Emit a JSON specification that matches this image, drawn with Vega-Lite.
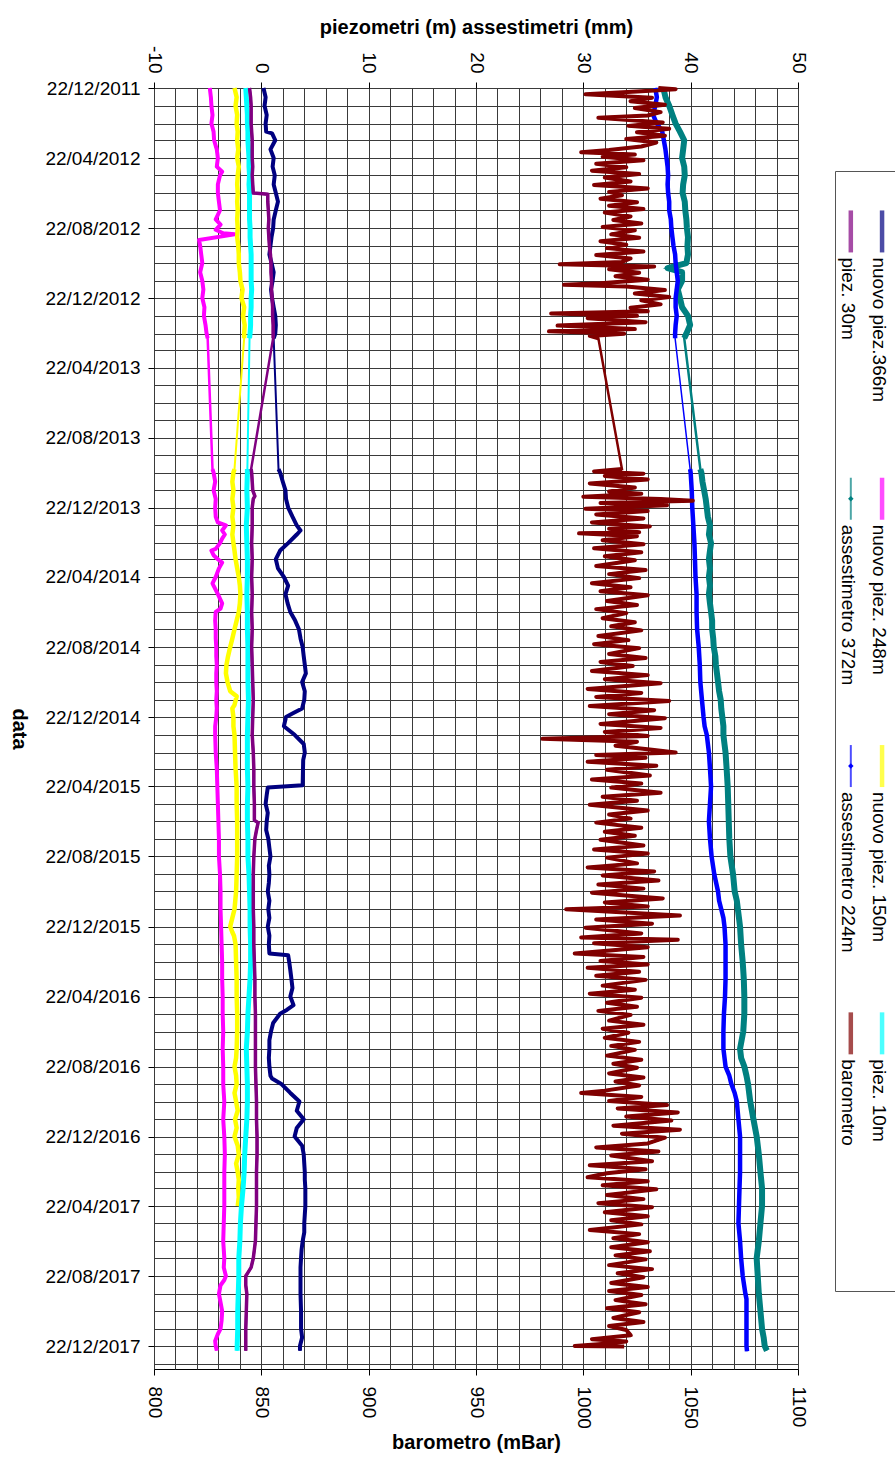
{
"$schema":"https://vega.github.io/schema/vega-lite/v6.json",
"background":"white",
"padding":{"left":8,"top":17,"right":0,"bottom":0},
"config":{
 "font":"Liberation Sans",
 "view":{"stroke":"#000","strokeWidth":1},
 "axis":{"labelColor":"#000","titleColor":"#000","tickColor":"#000","domainColor":"#000","labelFont":"Liberation Sans","titleFont":"Liberation Sans","labelFontSize":19,"titleFontSize":20,"titleFontWeight":"bold","gridColor":"#3a3a3a","gridOpacity":1,"gridWidth":1,"labelOverlap":false,"labelBound":false,"labelFlush":false,"tickSize":6,"tickWidth":1}
},
"datasets":{
"n366":[{"d":"2011-12-22","v":0.2},{"d":"2012-01-07","v":0.4},{"d":"2012-01-22","v":0.3},{"d":"2012-02-07","v":0.5},{"d":"2012-02-22","v":0.4},{"d":"2012-03-07","v":0.45},{"d":"2012-03-10","v":1.0},{"d":"2012-03-22","v":1.3},{"d":"2012-04-07","v":0.85},{"d":"2012-04-22","v":1.15},{"d":"2012-05-07","v":1.05},{"d":"2012-05-22","v":1.25},{"d":"2012-06-07","v":1.15},{"d":"2012-06-22","v":1.35},{"d":"2012-07-07","v":1.55},{"d":"2012-07-22","v":1.35},{"d":"2012-08-07","v":1.15},{"d":"2012-08-22","v":1.1},{"d":"2012-09-07","v":0.95},{"d":"2012-09-22","v":0.85},{"d":"2012-10-07","v":0.75},{"d":"2012-10-22","v":0.95},{"d":"2012-11-07","v":1.15},{"d":"2012-11-22","v":1.05},{"d":"2012-12-07","v":0.9},{"d":"2012-12-22","v":1.0},{"d":"2013-01-07","v":1.15},{"d":"2013-01-22","v":1.3},{"d":"2013-02-07","v":1.35},{"d":"2013-02-22","v":1.3},{"d":"2013-03-02","v":1.15},{"d":"2013-06-15","v":null},{"d":"2013-10-16","v":1.6},{"d":"2013-10-22","v":1.75},{"d":"2013-11-07","v":2.0},{"d":"2013-11-22","v":2.25},{"d":"2013-12-07","v":2.3},{"d":"2013-12-22","v":2.5},{"d":"2014-01-07","v":2.9},{"d":"2014-01-22","v":3.3},{"d":"2014-01-31","v":3.65},{"d":"2014-02-07","v":3.3},{"d":"2014-02-22","v":2.5},{"d":"2014-03-07","v":1.75},{"d":"2014-03-22","v":1.35},{"d":"2014-04-07","v":1.55},{"d":"2014-04-22","v":2.1},{"d":"2014-05-07","v":2.5},{"d":"2014-05-22","v":2.25},{"d":"2014-06-07","v":2.45},{"d":"2014-06-22","v":2.7},{"d":"2014-07-07","v":3.15},{"d":"2014-07-22","v":3.5},{"d":"2014-08-07","v":3.65},{"d":"2014-08-22","v":3.85},{"d":"2014-09-07","v":3.95},{"d":"2014-09-22","v":4.05},{"d":"2014-10-07","v":4.15},{"d":"2014-10-22","v":3.8},{"d":"2014-11-07","v":4.05},{"d":"2014-11-22","v":4.0},{"d":"2014-12-07","v":3.8},{"d":"2014-12-16","v":2.9},{"d":"2014-12-22","v":2.3},{"d":"2015-01-07","v":2.1},{"d":"2015-01-22","v":3.1},{"d":"2015-02-07","v":3.95},{"d":"2015-02-22","v":4.05},{"d":"2015-03-07","v":3.9},{"d":"2015-04-20","v":3.85},{"d":"2015-04-24","v":0.6},{"d":"2015-05-07","v":0.5},{"d":"2015-05-22","v":0.4},{"d":"2015-06-07","v":0.6},{"d":"2015-06-22","v":0.5},{"d":"2015-07-07","v":0.45},{"d":"2015-07-22","v":0.65},{"d":"2015-08-07","v":0.75},{"d":"2015-08-22","v":0.85},{"d":"2015-09-07","v":0.7},{"d":"2015-09-22","v":0.75},{"d":"2015-10-07","v":0.7},{"d":"2015-10-22","v":0.6},{"d":"2015-11-07","v":0.75},{"d":"2015-11-22","v":0.65},{"d":"2015-12-07","v":0.75},{"d":"2015-12-22","v":0.6},{"d":"2016-01-07","v":0.75},{"d":"2016-01-22","v":0.7},{"d":"2016-02-07","v":0.75},{"d":"2016-02-10","v":2.5},{"d":"2016-02-22","v":2.6},{"d":"2016-03-07","v":2.7},{"d":"2016-03-22","v":2.8},{"d":"2016-04-07","v":2.9},{"d":"2016-04-22","v":2.7},{"d":"2016-05-07","v":3.0},{"d":"2016-05-15","v":2.4},{"d":"2016-05-22","v":1.75},{"d":"2016-06-07","v":1.1},{"d":"2016-06-22","v":0.9},{"d":"2016-07-07","v":0.75},{"d":"2016-07-22","v":0.75},{"d":"2016-08-07","v":0.7},{"d":"2016-08-22","v":0.75},{"d":"2016-09-07","v":0.85},{"d":"2016-09-12","v":1.0},{"d":"2016-09-22","v":1.9},{"d":"2016-10-07","v":2.7},{"d":"2016-10-22","v":3.55},{"d":"2016-11-07","v":3.3},{"d":"2016-11-22","v":3.95},{"d":"2016-12-07","v":3.3},{"d":"2016-12-22","v":3.1},{"d":"2017-01-07","v":3.8},{"d":"2017-01-22","v":3.95},{"d":"2017-02-07","v":4.0},{"d":"2017-02-22","v":4.05},{"d":"2017-03-07","v":4.05},{"d":"2017-03-22","v":4.1},{"d":"2017-04-07","v":4.1},{"d":"2017-04-22","v":4.1},{"d":"2017-05-07","v":4.05},{"d":"2017-05-22","v":4.0},{"d":"2017-06-07","v":4.0},{"d":"2017-06-22","v":3.85},{"d":"2017-07-07","v":3.75},{"d":"2017-07-22","v":3.7},{"d":"2017-08-07","v":3.65},{"d":"2017-08-22","v":3.65},{"d":"2017-09-22","v":3.65},{"d":"2017-10-22","v":3.7},{"d":"2017-11-22","v":3.7},{"d":"2017-12-07","v":3.8},{"d":"2017-12-22","v":3.6},{"d":"2017-12-30","v":3.6}],
"n248":[{"d":"2011-12-22","v":-4.8},{"d":"2012-01-07","v":-4.7},{"d":"2012-01-22","v":-4.65},{"d":"2012-02-07","v":-4.55},{"d":"2012-02-22","v":-4.65},{"d":"2012-03-07","v":-4.45},{"d":"2012-03-22","v":-4.4},{"d":"2012-04-07","v":-4.15},{"d":"2012-04-22","v":-4.05},{"d":"2012-05-07","v":-4.15},{"d":"2012-05-16","v":-3.65},{"d":"2012-05-22","v":-3.85},{"d":"2012-06-07","v":-4.05},{"d":"2012-06-22","v":-4.05},{"d":"2012-07-07","v":-3.95},{"d":"2012-07-22","v":-3.85},{"d":"2012-08-07","v":-4.25},{"d":"2012-08-16","v":-3.8},{"d":"2012-08-25","v":-4.25},{"d":"2012-08-31","v":-3.55},{"d":"2012-09-02","v":-2.5},{"d":"2012-09-12","v":-5.8},{"d":"2012-09-22","v":-5.7},{"d":"2012-10-07","v":-5.6},{"d":"2012-10-22","v":-5.5},{"d":"2012-11-07","v":-5.7},{"d":"2012-11-22","v":-5.5},{"d":"2012-12-07","v":-5.4},{"d":"2012-12-22","v":-5.5},{"d":"2013-01-07","v":-5.3},{"d":"2013-01-22","v":-5.35},{"d":"2013-02-07","v":-5.2},{"d":"2013-02-22","v":-5.1},{"d":"2013-03-02","v":-5.0},{"d":"2013-06-15","v":null},{"d":"2013-10-16","v":-4.55},{"d":"2013-10-22","v":-4.45},{"d":"2013-11-07","v":-4.3},{"d":"2013-11-22","v":-4.45},{"d":"2013-12-07","v":-4.25},{"d":"2013-12-22","v":-4.3},{"d":"2014-01-07","v":-4.25},{"d":"2014-01-17","v":-4.05},{"d":"2014-01-22","v":-3.3},{"d":"2014-01-31","v":-3.65},{"d":"2014-02-07","v":-3.4},{"d":"2014-02-14","v":-3.65},{"d":"2014-02-22","v":-3.85},{"d":"2014-03-04","v":-4.25},{"d":"2014-03-07","v":-4.65},{"d":"2014-03-15","v":-4.45},{"d":"2014-03-22","v":-4.05},{"d":"2014-03-28","v":-3.65},{"d":"2014-04-07","v":-3.95},{"d":"2014-04-22","v":-4.25},{"d":"2014-05-03","v":-4.55},{"d":"2014-05-07","v":-4.45},{"d":"2014-05-22","v":-4.05},{"d":"2014-06-07","v":-3.65},{"d":"2014-06-16","v":-3.8},{"d":"2014-06-22","v":-4.25},{"d":"2014-07-07","v":-4.3},{"d":"2014-07-22","v":-4.25},{"d":"2014-08-07","v":-4.25},{"d":"2014-08-22","v":-4.2},{"d":"2014-09-07","v":-4.2},{"d":"2014-09-22","v":-4.15},{"d":"2014-10-07","v":-4.2},{"d":"2014-10-22","v":-4.2},{"d":"2014-11-07","v":-4.15},{"d":"2014-11-22","v":-4.2},{"d":"2014-12-07","v":-4.15},{"d":"2014-12-22","v":-4.2},{"d":"2015-01-07","v":-4.3},{"d":"2015-01-22","v":-4.3},{"d":"2015-02-22","v":-4.25},{"d":"2015-03-22","v":-4.15},{"d":"2015-04-22","v":-4.1},{"d":"2015-05-22","v":-4.05},{"d":"2015-06-22","v":-4.0},{"d":"2015-07-22","v":-3.95},{"d":"2015-08-22","v":-3.95},{"d":"2015-09-22","v":-3.85},{"d":"2015-10-22","v":-3.8},{"d":"2015-11-22","v":-3.8},{"d":"2015-12-22","v":-3.75},{"d":"2016-01-22","v":-3.7},{"d":"2016-02-22","v":-3.65},{"d":"2016-03-22","v":-3.65},{"d":"2016-04-22","v":-3.6},{"d":"2016-05-22","v":-3.6},{"d":"2016-06-22","v":-3.55},{"d":"2016-07-22","v":-3.6},{"d":"2016-08-22","v":-3.55},{"d":"2016-09-22","v":-3.55},{"d":"2016-10-22","v":-3.45},{"d":"2016-11-22","v":-3.55},{"d":"2016-12-22","v":-3.45},{"d":"2017-01-22","v":-3.4},{"d":"2017-02-22","v":-3.45},{"d":"2017-03-22","v":-3.45},{"d":"2017-04-22","v":-3.45},{"d":"2017-05-22","v":-3.5},{"d":"2017-06-22","v":-3.55},{"d":"2017-07-07","v":-3.5},{"d":"2017-07-22","v":-3.45},{"d":"2017-08-07","v":-3.5},{"d":"2017-08-22","v":-3.3},{"d":"2017-08-29","v":-3.45},{"d":"2017-09-07","v":-3.8},{"d":"2017-09-22","v":-3.95},{"d":"2017-10-07","v":-3.8},{"d":"2017-10-22","v":-3.65},{"d":"2017-11-07","v":-3.7},{"d":"2017-11-22","v":-3.8},{"d":"2017-12-01","v":-4.05},{"d":"2017-12-13","v":-4.3},{"d":"2017-12-22","v":-4.25},{"d":"2017-12-30","v":-4.15}],
"n150":[{"d":"2011-12-22","v":-2.5},{"d":"2012-01-07","v":-2.3},{"d":"2012-01-22","v":-2.4},{"d":"2012-02-07","v":-2.25},{"d":"2012-02-22","v":-2.3},{"d":"2012-03-07","v":-2.2},{"d":"2012-03-22","v":-2.25},{"d":"2012-04-07","v":-2.15},{"d":"2012-04-22","v":-2.25},{"d":"2012-05-07","v":-2.1},{"d":"2012-05-22","v":-2.2},{"d":"2012-06-07","v":-2.25},{"d":"2012-06-22","v":-2.2},{"d":"2012-07-07","v":-2.25},{"d":"2012-07-22","v":-2.2},{"d":"2012-08-07","v":-2.25},{"d":"2012-08-22","v":-2.2},{"d":"2012-09-07","v":-2.25},{"d":"2012-09-22","v":-2.15},{"d":"2012-10-07","v":-2.1},{"d":"2012-10-22","v":-2.1},{"d":"2012-11-07","v":-2.0},{"d":"2012-11-22","v":-1.95},{"d":"2012-12-07","v":-1.75},{"d":"2012-12-22","v":-1.85},{"d":"2013-01-07","v":-1.6},{"d":"2013-01-22","v":-1.7},{"d":"2013-02-07","v":-1.55},{"d":"2013-02-22","v":-1.6},{"d":"2013-03-02","v":-1.6},{"d":"2013-06-15","v":null},{"d":"2013-10-16","v":-2.5},{"d":"2013-10-22","v":-2.6},{"d":"2013-11-07","v":-2.7},{"d":"2013-11-22","v":-2.6},{"d":"2013-12-07","v":-2.7},{"d":"2013-12-22","v":-2.6},{"d":"2014-01-07","v":-2.7},{"d":"2014-01-22","v":-2.6},{"d":"2014-02-07","v":-2.7},{"d":"2014-02-22","v":-2.6},{"d":"2014-03-07","v":-2.5},{"d":"2014-03-22","v":-2.4},{"d":"2014-04-07","v":-2.25},{"d":"2014-04-22","v":-2.1},{"d":"2014-05-07","v":-2.0},{"d":"2014-05-22","v":-1.95},{"d":"2014-06-07","v":-2.0},{"d":"2014-06-22","v":-2.1},{"d":"2014-07-07","v":-2.3},{"d":"2014-07-22","v":-2.5},{"d":"2014-08-07","v":-2.7},{"d":"2014-08-22","v":-2.9},{"d":"2014-09-07","v":-3.1},{"d":"2014-09-22","v":-3.25},{"d":"2014-10-07","v":-3.3},{"d":"2014-10-22","v":-3.15},{"d":"2014-11-07","v":-2.9},{"d":"2014-11-16","v":-2.3},{"d":"2014-12-01","v":-2.5},{"d":"2014-12-07","v":-2.7},{"d":"2014-12-22","v":-2.6},{"d":"2015-01-07","v":-2.6},{"d":"2015-01-22","v":-2.5},{"d":"2015-02-22","v":-2.45},{"d":"2015-03-22","v":-2.4},{"d":"2015-04-22","v":-2.3},{"d":"2015-05-22","v":-2.3},{"d":"2015-06-22","v":-2.25},{"d":"2015-07-22","v":-2.25},{"d":"2015-08-22","v":-2.25},{"d":"2015-09-22","v":-2.3},{"d":"2015-10-22","v":-2.35},{"d":"2015-11-22","v":-2.5},{"d":"2015-12-07","v":-2.7},{"d":"2015-12-22","v":-2.9},{"d":"2016-01-01","v":-2.7},{"d":"2016-01-07","v":-2.55},{"d":"2016-01-22","v":-2.4},{"d":"2016-02-22","v":-2.35},{"d":"2016-03-22","v":-2.3},{"d":"2016-04-22","v":-2.3},{"d":"2016-05-22","v":-2.25},{"d":"2016-06-22","v":-2.25},{"d":"2016-07-22","v":-2.3},{"d":"2016-08-07","v":-2.35},{"d":"2016-08-22","v":-2.5},{"d":"2016-09-07","v":-2.35},{"d":"2016-09-22","v":-2.3},{"d":"2016-10-07","v":-2.5},{"d":"2016-10-22","v":-2.35},{"d":"2016-11-07","v":-2.2},{"d":"2016-11-22","v":-2.45},{"d":"2016-12-07","v":-2.3},{"d":"2016-12-22","v":-2.5},{"d":"2017-01-07","v":-2.2},{"d":"2017-01-22","v":-2.1},{"d":"2017-02-07","v":-2.35},{"d":"2017-02-22","v":-2.2},{"d":"2017-03-07","v":-2.1},{"d":"2017-03-22","v":-2.15},{"d":"2017-04-07","v":-2.1},{"d":"2017-04-22","v":-2.2}],
"p10":[{"d":"2011-12-22","v":-1.45},{"d":"2012-01-07","v":-1.4},{"d":"2012-01-22","v":-1.35},{"d":"2012-02-07","v":-1.3},{"d":"2012-02-22","v":-1.3},{"d":"2012-03-07","v":-1.25},{"d":"2012-03-22","v":-1.25},{"d":"2012-04-07","v":-1.2},{"d":"2012-04-22","v":-1.15},{"d":"2012-05-07","v":-1.15},{"d":"2012-05-22","v":-1.1},{"d":"2012-06-07","v":-1.15},{"d":"2012-06-22","v":-1.1},{"d":"2012-07-07","v":-1.1},{"d":"2012-07-22","v":-1.1},{"d":"2012-08-07","v":-1.1},{"d":"2012-08-22","v":-1.05},{"d":"2012-09-07","v":-1.05},{"d":"2012-09-22","v":-1.0},{"d":"2012-10-07","v":-0.95},{"d":"2012-10-22","v":-0.95},{"d":"2012-11-07","v":-0.95},{"d":"2012-11-22","v":-0.95},{"d":"2012-12-07","v":-0.9},{"d":"2012-12-22","v":-0.95},{"d":"2013-01-07","v":-0.95},{"d":"2013-01-22","v":-1.0},{"d":"2013-02-07","v":-1.0},{"d":"2013-02-22","v":-1.05},{"d":"2013-03-02","v":-1.1},{"d":"2013-06-15","v":null},{"d":"2013-10-16","v":-1.3},{"d":"2013-10-22","v":-1.3},{"d":"2013-11-22","v":-1.35},{"d":"2013-12-22","v":-1.3},{"d":"2014-01-22","v":-1.4},{"d":"2014-02-22","v":-1.35},{"d":"2014-03-22","v":-1.3},{"d":"2014-04-22","v":-1.3},{"d":"2014-05-22","v":-1.35},{"d":"2014-06-22","v":-1.3},{"d":"2014-07-22","v":-1.3},{"d":"2014-08-22","v":-1.25},{"d":"2014-09-22","v":-1.25},{"d":"2014-10-22","v":-1.25},{"d":"2014-11-22","v":-1.2},{"d":"2014-12-22","v":-1.25},{"d":"2015-01-22","v":-1.3},{"d":"2015-02-22","v":-1.3},{"d":"2015-03-22","v":-1.3},{"d":"2015-04-22","v":-1.25},{"d":"2015-05-22","v":-1.3},{"d":"2015-06-22","v":-1.3},{"d":"2015-07-22","v":-1.25},{"d":"2015-08-22","v":-1.25},{"d":"2015-09-22","v":-1.15},{"d":"2015-10-22","v":-1.1},{"d":"2015-11-22","v":-1.05},{"d":"2015-12-22","v":-1.05},{"d":"2016-01-22","v":-1.0},{"d":"2016-02-22","v":-1.0},{"d":"2016-03-22","v":-1.05},{"d":"2016-04-22","v":-1.15},{"d":"2016-05-22","v":-1.25},{"d":"2016-06-22","v":-1.3},{"d":"2016-07-22","v":-1.4},{"d":"2016-08-22","v":-1.35},{"d":"2016-09-22","v":-1.3},{"d":"2016-10-22","v":-1.3},{"d":"2016-11-22","v":-1.35},{"d":"2016-12-22","v":-1.45},{"d":"2017-01-22","v":-1.55},{"d":"2017-02-22","v":-1.6},{"d":"2017-03-22","v":-1.7},{"d":"2017-04-22","v":-1.85},{"d":"2017-05-22","v":-1.95},{"d":"2017-06-22","v":-2.0},{"d":"2017-07-22","v":-2.1},{"d":"2017-08-22","v":-2.1},{"d":"2017-09-22","v":-2.15},{"d":"2017-10-22","v":-2.2},{"d":"2017-11-22","v":-2.2},{"d":"2017-12-22","v":-2.25},{"d":"2017-12-30","v":-2.25}],
"p30":[{"d":"2011-12-22","v":-1.1},{"d":"2012-01-07","v":-1.0},{"d":"2012-01-22","v":-0.95},{"d":"2012-02-07","v":-0.95},{"d":"2012-02-22","v":-0.95},{"d":"2012-03-07","v":-0.9},{"d":"2012-03-22","v":-0.85},{"d":"2012-04-07","v":-0.85},{"d":"2012-04-22","v":-0.85},{"d":"2012-05-07","v":-0.8},{"d":"2012-05-22","v":-0.85},{"d":"2012-06-07","v":-0.8},{"d":"2012-06-22","v":-0.75},{"d":"2012-06-24","v":0.6},{"d":"2012-07-07","v":0.6},{"d":"2012-07-22","v":0.65},{"d":"2012-08-07","v":0.7},{"d":"2012-08-22","v":0.65},{"d":"2012-09-07","v":0.7},{"d":"2012-09-22","v":0.75},{"d":"2012-10-07","v":0.85},{"d":"2012-10-22","v":0.9},{"d":"2012-11-07","v":0.9},{"d":"2012-11-22","v":0.95},{"d":"2012-12-07","v":0.95},{"d":"2012-12-22","v":1.0},{"d":"2013-01-07","v":1.05},{"d":"2013-01-22","v":1.05},{"d":"2013-02-07","v":1.1},{"d":"2013-02-22","v":1.1},{"d":"2013-03-02","v":1.1},{"d":"2013-06-15","v":null},{"d":"2013-10-16","v":-0.95},{"d":"2013-10-22","v":-0.9},{"d":"2013-11-07","v":-0.85},{"d":"2013-11-22","v":-0.8},{"d":"2013-12-02","v":-0.6},{"d":"2013-12-07","v":-0.75},{"d":"2013-12-22","v":-0.85},{"d":"2014-01-22","v":-0.85},{"d":"2014-02-22","v":-0.9},{"d":"2014-03-22","v":-0.85},{"d":"2014-04-22","v":-0.9},{"d":"2014-05-22","v":-0.85},{"d":"2014-06-22","v":-0.9},{"d":"2014-07-22","v":-0.85},{"d":"2014-08-22","v":-0.9},{"d":"2014-09-22","v":-0.85},{"d":"2014-10-22","v":-0.8},{"d":"2014-11-22","v":-0.75},{"d":"2014-12-22","v":-0.8},{"d":"2015-01-22","v":-0.85},{"d":"2015-02-22","v":-0.75},{"d":"2015-03-22","v":-0.7},{"d":"2015-04-22","v":-0.7},{"d":"2015-05-22","v":-0.65},{"d":"2015-06-20","v":-0.65},{"d":"2015-06-24","v":-0.3},{"d":"2015-07-07","v":-0.45},{"d":"2015-07-22","v":-0.6},{"d":"2015-08-22","v":-0.7},{"d":"2015-09-22","v":-0.75},{"d":"2015-10-22","v":-0.75},{"d":"2015-11-22","v":-0.75},{"d":"2015-12-22","v":-0.7},{"d":"2016-01-22","v":-0.7},{"d":"2016-02-22","v":-0.65},{"d":"2016-03-22","v":-0.6},{"d":"2016-04-22","v":-0.6},{"d":"2016-05-22","v":-0.55},{"d":"2016-06-22","v":-0.55},{"d":"2016-07-22","v":-0.55},{"d":"2016-08-22","v":-0.55},{"d":"2016-09-22","v":-0.5},{"d":"2016-10-22","v":-0.45},{"d":"2016-11-22","v":-0.45},{"d":"2016-12-22","v":-0.4},{"d":"2017-01-22","v":-0.4},{"d":"2017-02-22","v":-0.45},{"d":"2017-03-22","v":-0.45},{"d":"2017-04-22","v":-0.45},{"d":"2017-05-22","v":-0.5},{"d":"2017-06-22","v":-0.55},{"d":"2017-07-07","v":-0.65},{"d":"2017-07-22","v":-0.75},{"d":"2017-08-07","v":-0.95},{"d":"2017-08-16","v":-1.25},{"d":"2017-08-22","v":-1.45},{"d":"2017-09-07","v":-1.45},{"d":"2017-09-22","v":-1.35},{"d":"2017-10-22","v":-1.4},{"d":"2017-11-22","v":-1.45},{"d":"2017-12-22","v":-1.45},{"d":"2017-12-30","v":-1.45}],
"a372":[{"d":"2011-12-22","v":37.45},{"d":"2012-01-07","v":37.65},{"d":"2012-01-22","v":38.0},{"d":"2012-02-07","v":38.3},{"d":"2012-02-22","v":38.6},{"d":"2012-03-07","v":39.0},{"d":"2012-03-22","v":39.4},{"d":"2012-04-07","v":39.3},{"d":"2012-04-22","v":39.2},{"d":"2012-05-07","v":39.4},{"d":"2012-05-22","v":39.45},{"d":"2012-06-07","v":39.3},{"d":"2012-06-22","v":39.25},{"d":"2012-07-07","v":39.45},{"d":"2012-07-22","v":39.5},{"d":"2012-08-07","v":39.6},{"d":"2012-08-22","v":39.65},{"d":"2012-09-07","v":39.75},{"d":"2012-09-22","v":39.7},{"d":"2012-10-07","v":39.75},{"d":"2012-10-22","v":39.6},{"d":"2012-10-31","v":37.85},{"d":"2012-11-07","v":39.2},{"d":"2012-11-22","v":39.2},{"d":"2012-12-07","v":38.8},{"d":"2012-12-22","v":39.0},{"d":"2013-01-07","v":39.2},{"d":"2013-01-22","v":39.75},{"d":"2013-02-07","v":39.95},{"d":"2013-02-22","v":39.6},{"d":"2013-03-02","v":39.4},{"d":"2013-06-15","v":null},{"d":"2013-10-16","v":40.9},{"d":"2013-10-22","v":41.0},{"d":"2013-11-07","v":41.1},{"d":"2013-11-22","v":41.25},{"d":"2013-12-07","v":41.4},{"d":"2013-12-22","v":41.5},{"d":"2014-01-07","v":41.6},{"d":"2014-01-22","v":41.8},{"d":"2014-02-07","v":41.7},{"d":"2014-02-22","v":41.9},{"d":"2014-03-07","v":41.8},{"d":"2014-03-22","v":41.7},{"d":"2014-04-07","v":41.8},{"d":"2014-04-22","v":41.7},{"d":"2014-05-07","v":41.8},{"d":"2014-05-22","v":41.7},{"d":"2014-06-07","v":41.8},{"d":"2014-06-22","v":41.9},{"d":"2014-07-07","v":42.0},{"d":"2014-07-22","v":42.0},{"d":"2014-08-07","v":42.1},{"d":"2014-08-22","v":42.15},{"d":"2014-09-07","v":42.3},{"d":"2014-09-22","v":42.35},{"d":"2014-10-07","v":42.45},{"d":"2014-10-22","v":42.55},{"d":"2014-11-07","v":42.65},{"d":"2014-11-22","v":42.8},{"d":"2014-12-07","v":42.85},{"d":"2014-12-22","v":42.95},{"d":"2015-01-07","v":43.05},{"d":"2015-01-22","v":43.05},{"d":"2015-02-07","v":43.15},{"d":"2015-02-22","v":43.25},{"d":"2015-03-22","v":43.35},{"d":"2015-04-22","v":43.45},{"d":"2015-05-22","v":43.5},{"d":"2015-06-22","v":43.55},{"d":"2015-07-22","v":43.6},{"d":"2015-08-22","v":43.7},{"d":"2015-09-22","v":43.95},{"d":"2015-10-22","v":44.1},{"d":"2015-11-07","v":44.3},{"d":"2015-11-22","v":44.4},{"d":"2015-12-07","v":44.5},{"d":"2015-12-22","v":44.6},{"d":"2016-01-22","v":44.7},{"d":"2016-02-22","v":44.85},{"d":"2016-03-22","v":44.95},{"d":"2016-04-22","v":45.0},{"d":"2016-05-22","v":45.0},{"d":"2016-06-22","v":44.9},{"d":"2016-07-22","v":44.6},{"d":"2016-08-07","v":44.7},{"d":"2016-08-22","v":45.0},{"d":"2016-09-07","v":45.2},{"d":"2016-09-22","v":45.35},{"d":"2016-10-22","v":45.55},{"d":"2016-11-22","v":45.85},{"d":"2016-12-22","v":46.15},{"d":"2017-01-22","v":46.35},{"d":"2017-02-22","v":46.5},{"d":"2017-03-22","v":46.65},{"d":"2017-04-22","v":46.65},{"d":"2017-05-22","v":46.5},{"d":"2017-06-22","v":46.35},{"d":"2017-07-22","v":46.15},{"d":"2017-08-22","v":46.25},{"d":"2017-09-22","v":46.35},{"d":"2017-10-22","v":46.5},{"d":"2017-11-22","v":46.65},{"d":"2017-12-07","v":46.8},{"d":"2017-12-22","v":46.9},{"d":"2017-12-30","v":47.1}],
"a224":[{"d":"2011-12-22","v":36.7},{"d":"2012-01-07","v":36.85},{"d":"2012-01-22","v":36.7},{"d":"2012-02-07","v":36.5},{"d":"2012-02-22","v":36.85},{"d":"2012-03-07","v":37.35},{"d":"2012-03-22","v":37.5},{"d":"2012-04-07","v":37.65},{"d":"2012-04-22","v":37.75},{"d":"2012-05-07","v":37.85},{"d":"2012-05-22","v":37.9},{"d":"2012-06-07","v":37.85},{"d":"2012-06-22","v":37.9},{"d":"2012-07-07","v":38.0},{"d":"2012-07-22","v":38.0},{"d":"2012-08-07","v":38.15},{"d":"2012-08-22","v":38.2},{"d":"2012-09-07","v":38.3},{"d":"2012-09-22","v":38.4},{"d":"2012-10-07","v":38.55},{"d":"2012-10-22","v":38.6},{"d":"2012-11-07","v":38.7},{"d":"2012-11-22","v":38.8},{"d":"2012-12-07","v":38.7},{"d":"2012-12-22","v":38.6},{"d":"2013-01-07","v":38.6},{"d":"2013-01-22","v":38.7},{"d":"2013-02-07","v":38.6},{"d":"2013-02-22","v":38.55},{"d":"2013-03-02","v":38.55},{"d":"2013-06-15","v":null},{"d":"2013-10-16","v":39.95},{"d":"2013-10-22","v":40.0},{"d":"2013-11-22","v":40.1},{"d":"2013-12-22","v":40.15},{"d":"2014-01-22","v":40.25},{"d":"2014-02-22","v":40.35},{"d":"2014-03-22","v":40.4},{"d":"2014-04-22","v":40.45},{"d":"2014-05-22","v":40.55},{"d":"2014-06-22","v":40.55},{"d":"2014-07-22","v":40.6},{"d":"2014-08-22","v":40.75},{"d":"2014-09-22","v":40.85},{"d":"2014-10-22","v":40.9},{"d":"2014-11-22","v":41.05},{"d":"2014-12-22","v":41.2},{"d":"2015-01-07","v":41.3},{"d":"2015-01-22","v":41.5},{"d":"2015-02-22","v":41.7},{"d":"2015-03-22","v":41.8},{"d":"2015-04-22","v":41.9},{"d":"2015-05-22","v":41.8},{"d":"2015-06-22","v":41.7},{"d":"2015-07-22","v":41.8},{"d":"2015-08-22","v":41.95},{"d":"2015-09-22","v":42.2},{"d":"2015-10-22","v":42.55},{"d":"2015-11-07","v":42.65},{"d":"2015-11-22","v":42.85},{"d":"2015-12-07","v":43.05},{"d":"2015-12-22","v":43.15},{"d":"2016-01-22","v":43.25},{"d":"2016-02-22","v":43.25},{"d":"2016-03-22","v":43.25},{"d":"2016-04-22","v":43.2},{"d":"2016-05-22","v":43.1},{"d":"2016-06-22","v":43.05},{"d":"2016-07-22","v":43.05},{"d":"2016-08-22","v":43.25},{"d":"2016-09-07","v":43.6},{"d":"2016-09-22","v":43.8},{"d":"2016-10-07","v":44.1},{"d":"2016-10-22","v":44.3},{"d":"2016-11-22","v":44.45},{"d":"2016-12-22","v":44.6},{"d":"2017-01-22","v":44.6},{"d":"2017-02-22","v":44.6},{"d":"2017-03-22","v":44.55},{"d":"2017-04-22","v":44.5},{"d":"2017-05-22","v":44.45},{"d":"2017-06-22","v":44.6},{"d":"2017-07-22","v":44.7},{"d":"2017-08-22","v":44.85},{"d":"2017-09-22","v":45.1},{"d":"2017-10-01","v":45.2},{"d":"2017-10-22","v":45.2},{"d":"2017-11-22","v":45.2},{"d":"2017-12-22","v":45.2},{"d":"2017-12-31","v":45.25}],
"bar":[{"d":"2011-12-22","v":1035},{"d":"2011-12-24","v":1043},{"d":"2011-12-28","v":1025},{"d":"2012-01-02","v":1001},{"d":"2012-01-08","v":1032},{"d":"2012-01-14","v":1022},{"d":"2012-01-20","v":1038},{"d":"2012-01-26","v":1024},{"d":"2012-02-02","v":1036},{"d":"2012-02-08","v":1030},{"d":"2012-02-12","v":1007},{"d":"2012-02-20","v":1037},{"d":"2012-02-26","v":1021},{"d":"2012-03-02","v":1040},{"d":"2012-03-08","v":1025},{"d":"2012-03-14","v":1038},{"d":"2012-03-20","v":1020},{"d":"2012-03-26","v":1034},{"d":"2012-04-02","v":1027},{"d":"2012-04-08","v":1012},{"d":"2012-04-12","v":999},{"d":"2012-04-16","v":1024},{"d":"2012-04-20","v":1009},{"d":"2012-04-26","v":1028},{"d":"2012-05-02","v":1006},{"d":"2012-05-08","v":1020},{"d":"2012-05-14","v":1004},{"d":"2012-05-20","v":1026},{"d":"2012-05-26","v":1010},{"d":"2012-06-02","v":1022},{"d":"2012-06-08","v":1005},{"d":"2012-06-14","v":1030},{"d":"2012-06-20","v":1012},{"d":"2012-06-26","v":1018},{"d":"2012-07-02","v":1008},{"d":"2012-07-08","v":1025},{"d":"2012-07-14","v":1012},{"d":"2012-07-20","v":1028},{"d":"2012-07-26","v":1010},{"d":"2012-08-02","v":1022},{"d":"2012-08-08","v":1014},{"d":"2012-08-14","v":1027},{"d":"2012-08-20","v":1009},{"d":"2012-08-26","v":1024},{"d":"2012-09-02","v":1013},{"d":"2012-09-08","v":1026},{"d":"2012-09-14","v":1008},{"d":"2012-09-20","v":1020},{"d":"2012-09-26","v":1011},{"d":"2012-10-02","v":1028},{"d":"2012-10-08","v":1006},{"d":"2012-10-14","v":1022},{"d":"2012-10-20","v":1018},{"d":"2012-10-24","v":989},{"d":"2012-10-28","v":1033},{"d":"2012-11-02","v":1012},{"d":"2012-11-08","v":1026},{"d":"2012-11-14","v":1015},{"d":"2012-11-20","v":1030},{"d":"2012-11-26","v":1008},{"d":"2012-11-29","v":991},{"d":"2012-12-02","v":1020},{"d":"2012-12-08","v":1038},{"d":"2012-12-14","v":1024},{"d":"2012-12-20","v":1040},{"d":"2012-12-26","v":1027},{"d":"2013-01-02","v":1036},{"d":"2013-01-08","v":1022},{"d":"2013-01-14","v":1030},{"d":"2013-01-18","v":985},{"d":"2013-01-22","v":1025},{"d":"2013-01-26","v":1002},{"d":"2013-02-02","v":1029},{"d":"2013-02-08","v":988},{"d":"2013-02-14","v":1024},{"d":"2013-02-18","v":984},{"d":"2013-02-22","v":1019},{"d":"2013-02-26","v":1003},{"d":"2013-03-02","v":1007},{"d":"2013-06-15","v":null},{"d":"2013-10-16","v":1018},{"d":"2013-10-20","v":1005},{"d":"2013-10-24","v":1028},{"d":"2013-10-28","v":1010},{"d":"2013-11-03","v":1030},{"d":"2013-11-10","v":1003},{"d":"2013-11-17","v":1024},{"d":"2013-11-24","v":1012},{"d":"2013-11-28","v":1027},{"d":"2013-12-03","v":1000},{"d":"2013-12-07","v":1036},{"d":"2013-12-10","v":1051},{"d":"2013-12-14","v":1008},{"d":"2013-12-18","v":1039},{"d":"2013-12-24","v":1001},{"d":"2013-12-28","v":1030},{"d":"2014-01-03","v":1006},{"d":"2014-01-10","v":1028},{"d":"2014-01-17","v":1004},{"d":"2014-01-24","v":1031},{"d":"2014-01-28","v":1012},{"d":"2014-02-03","v":1026},{"d":"2014-02-05","v":998},{"d":"2014-02-10","v":1025},{"d":"2014-02-17","v":1009},{"d":"2014-02-24","v":1028},{"d":"2014-03-03","v":1005},{"d":"2014-03-10","v":1027},{"d":"2014-03-17","v":1010},{"d":"2014-03-24","v":1024},{"d":"2014-04-03","v":1006},{"d":"2014-04-10","v":1029},{"d":"2014-04-17","v":1012},{"d":"2014-04-24","v":1026},{"d":"2014-05-03","v":1004},{"d":"2014-05-10","v":1022},{"d":"2014-05-17","v":1008},{"d":"2014-05-24","v":1030},{"d":"2014-06-03","v":1011},{"d":"2014-06-10","v":1025},{"d":"2014-06-17","v":1006},{"d":"2014-06-24","v":1020},{"d":"2014-07-03","v":1009},{"d":"2014-07-10","v":1024},{"d":"2014-07-17","v":1013},{"d":"2014-07-24","v":1027},{"d":"2014-08-03","v":1007},{"d":"2014-08-10","v":1021},{"d":"2014-08-17","v":1005},{"d":"2014-08-24","v":1026},{"d":"2014-09-03","v":1012},{"d":"2014-09-10","v":1029},{"d":"2014-09-17","v":1008},{"d":"2014-09-24","v":1023},{"d":"2014-10-03","v":1004},{"d":"2014-10-10","v":1030},{"d":"2014-10-17","v":1010},{"d":"2014-10-24","v":1036},{"d":"2014-11-03","v":1002},{"d":"2014-11-10","v":1027},{"d":"2014-11-17","v":1006},{"d":"2014-11-24","v":1040},{"d":"2014-12-03","v":1003},{"d":"2014-12-10","v":1033},{"d":"2014-12-17","v":1012},{"d":"2014-12-24","v":1038},{"d":"2015-01-03","v":1008},{"d":"2015-01-10","v":1036},{"d":"2015-01-17","v":1010},{"d":"2015-01-24","v":1030},{"d":"2015-01-29","v":981},{"d":"2015-02-03","v":1025},{"d":"2015-02-10","v":1015},{"d":"2015-02-17","v":1032},{"d":"2015-02-22","v":1043},{"d":"2015-02-26","v":1006},{"d":"2015-03-03","v":1029},{"d":"2015-03-10","v":1002},{"d":"2015-03-17","v":1034},{"d":"2015-03-24","v":1011},{"d":"2015-04-03","v":1031},{"d":"2015-04-10","v":1004},{"d":"2015-04-17","v":1027},{"d":"2015-04-24","v":1013},{"d":"2015-05-03","v":1036},{"d":"2015-05-10","v":1009},{"d":"2015-05-17","v":1025},{"d":"2015-05-24","v":1003},{"d":"2015-06-03","v":1030},{"d":"2015-06-10","v":1012},{"d":"2015-06-17","v":1022},{"d":"2015-06-24","v":1006},{"d":"2015-07-03","v":1027},{"d":"2015-07-10","v":1010},{"d":"2015-07-17","v":1024},{"d":"2015-07-24","v":1008},{"d":"2015-08-03","v":1028},{"d":"2015-08-10","v":1005},{"d":"2015-08-17","v":1030},{"d":"2015-08-24","v":1011},{"d":"2015-09-03","v":1025},{"d":"2015-09-10","v":1002},{"d":"2015-09-17","v":1033},{"d":"2015-09-24","v":1009},{"d":"2015-10-03","v":1035},{"d":"2015-10-10","v":1007},{"d":"2015-10-17","v":1028},{"d":"2015-10-24","v":1004},{"d":"2015-11-03","v":1037},{"d":"2015-11-10","v":1010},{"d":"2015-11-17","v":1030},{"d":"2015-11-22","v":992},{"d":"2015-12-03","v":1045},{"d":"2015-12-10","v":1006},{"d":"2015-12-17","v":1032},{"d":"2015-12-24","v":1001},{"d":"2016-01-03","v":1027},{"d":"2016-01-10","v":999},{"d":"2016-01-14","v":1044},{"d":"2016-01-20","v":1005},{"d":"2016-01-27","v":1030},{"d":"2016-02-07","v":996},{"d":"2016-02-13","v":1028},{"d":"2016-02-20","v":1008},{"d":"2016-02-26","v":1030},{"d":"2016-03-03","v":1002},{"d":"2016-03-10","v":1026},{"d":"2016-03-17","v":1006},{"d":"2016-03-24","v":1029},{"d":"2016-04-03","v":1009},{"d":"2016-04-10","v":1024},{"d":"2016-04-17","v":1003},{"d":"2016-04-24","v":1027},{"d":"2016-05-03","v":1011},{"d":"2016-05-10","v":1025},{"d":"2016-05-17","v":1007},{"d":"2016-05-24","v":1022},{"d":"2016-06-03","v":1012},{"d":"2016-06-10","v":1028},{"d":"2016-06-17","v":1009},{"d":"2016-06-24","v":1021},{"d":"2016-07-03","v":1010},{"d":"2016-07-10","v":1026},{"d":"2016-07-17","v":1013},{"d":"2016-07-24","v":1024},{"d":"2016-08-03","v":1011},{"d":"2016-08-10","v":1027},{"d":"2016-08-17","v":1014},{"d":"2016-08-24","v":1025},{"d":"2016-09-03","v":1012},{"d":"2016-09-10","v":1028},{"d":"2016-09-17","v":1015},{"d":"2016-09-24","v":1026},{"d":"2016-10-03","v":1010},{"d":"2016-10-07","v":999},{"d":"2016-10-14","v":1027},{"d":"2016-10-21","v":1012},{"d":"2016-10-28","v":1039},{"d":"2016-11-03","v":1016},{"d":"2016-11-10","v":1044},{"d":"2016-11-17","v":1020},{"d":"2016-11-24","v":1041},{"d":"2016-12-03","v":1014},{"d":"2016-12-10","v":1045},{"d":"2016-12-17","v":1018},{"d":"2016-12-24","v":1038},{"d":"2017-01-03","v":1030},{"d":"2017-01-10","v":1006},{"d":"2017-01-17","v":1035},{"d":"2017-01-24","v":1013},{"d":"2017-02-03","v":1032},{"d":"2017-02-10","v":1003},{"d":"2017-02-17","v":1029},{"d":"2017-02-24","v":1011},{"d":"2017-03-03","v":1002},{"d":"2017-03-10","v":1030},{"d":"2017-03-17","v":1009},{"d":"2017-03-24","v":1034},{"d":"2017-04-03","v":1011},{"d":"2017-04-10","v":1028},{"d":"2017-04-17","v":1007},{"d":"2017-04-24","v":1032},{"d":"2017-05-03","v":1010},{"d":"2017-05-10","v":1030},{"d":"2017-05-17","v":1013},{"d":"2017-05-24","v":1027},{"d":"2017-06-03","v":1003},{"d":"2017-06-10","v":1026},{"d":"2017-06-17","v":1014},{"d":"2017-06-24","v":1030},{"d":"2017-07-03","v":1013},{"d":"2017-07-10","v":1031},{"d":"2017-07-17","v":1015},{"d":"2017-07-24","v":1029},{"d":"2017-08-03","v":1012},{"d":"2017-08-10","v":1032},{"d":"2017-08-17","v":1016},{"d":"2017-08-24","v":1028},{"d":"2017-09-03","v":1013},{"d":"2017-09-10","v":1030},{"d":"2017-09-17","v":1012},{"d":"2017-09-24","v":1027},{"d":"2017-10-03","v":1015},{"d":"2017-10-10","v":1029},{"d":"2017-10-17","v":1011},{"d":"2017-10-24","v":1026},{"d":"2017-11-03","v":1014},{"d":"2017-11-10","v":1028},{"d":"2017-11-17","v":1012},{"d":"2017-11-24","v":1020},{"d":"2017-12-03","v":1022},{"d":"2017-12-10","v":1004},{"d":"2017-12-14","v":1020},{"d":"2017-12-18","v":1010},{"d":"2017-12-22","v":996},{"d":"2017-12-23","v":1019}]
},
"spacing":26,
"hconcat":[
{
 "width":644,"height":1281,
 "encoding":{
  "y":{"field":"d","type":"temporal","title":"data",
   "scale":{"type":"utc","domain":[{"year":2011,"month":12,"date":22,"utc":true},{"year":2018,"month":1,"date":31,"utc":true}],"nice":false,"reverse":true},
   "axis":{"grid":true,"domain":false,"labelPadding":8,"titleAngle":90,"titleBaseline":"top","titlePadding":16,
    "labelExpr":"utcmonth(datum.value) % 4 == 3 ? utcFormat(datum.value, '%d/%m/%Y') : ''",
    "tickOpacity":{"condition":{"test":"utcmonth(datum.value) % 4 == 3","value":1},"value":0},
    "values":[{"year":2011,"month":12,"date":22,"utc":true},
{"year":2012,"month":1,"date":22,"utc":true},{"year":2012,"month":2,"date":22,"utc":true},{"year":2012,"month":3,"date":22,"utc":true},{"year":2012,"month":4,"date":22,"utc":true},{"year":2012,"month":5,"date":22,"utc":true},{"year":2012,"month":6,"date":22,"utc":true},{"year":2012,"month":7,"date":22,"utc":true},{"year":2012,"month":8,"date":22,"utc":true},{"year":2012,"month":9,"date":22,"utc":true},{"year":2012,"month":10,"date":22,"utc":true},{"year":2012,"month":11,"date":22,"utc":true},{"year":2012,"month":12,"date":22,"utc":true},
{"year":2013,"month":1,"date":22,"utc":true},{"year":2013,"month":2,"date":22,"utc":true},{"year":2013,"month":3,"date":22,"utc":true},{"year":2013,"month":4,"date":22,"utc":true},{"year":2013,"month":5,"date":22,"utc":true},{"year":2013,"month":6,"date":22,"utc":true},{"year":2013,"month":7,"date":22,"utc":true},{"year":2013,"month":8,"date":22,"utc":true},{"year":2013,"month":9,"date":22,"utc":true},{"year":2013,"month":10,"date":22,"utc":true},{"year":2013,"month":11,"date":22,"utc":true},{"year":2013,"month":12,"date":22,"utc":true},
{"year":2014,"month":1,"date":22,"utc":true},{"year":2014,"month":2,"date":22,"utc":true},{"year":2014,"month":3,"date":22,"utc":true},{"year":2014,"month":4,"date":22,"utc":true},{"year":2014,"month":5,"date":22,"utc":true},{"year":2014,"month":6,"date":22,"utc":true},{"year":2014,"month":7,"date":22,"utc":true},{"year":2014,"month":8,"date":22,"utc":true},{"year":2014,"month":9,"date":22,"utc":true},{"year":2014,"month":10,"date":22,"utc":true},{"year":2014,"month":11,"date":22,"utc":true},{"year":2014,"month":12,"date":22,"utc":true},
{"year":2015,"month":1,"date":22,"utc":true},{"year":2015,"month":2,"date":22,"utc":true},{"year":2015,"month":3,"date":22,"utc":true},{"year":2015,"month":4,"date":22,"utc":true},{"year":2015,"month":5,"date":22,"utc":true},{"year":2015,"month":6,"date":22,"utc":true},{"year":2015,"month":7,"date":22,"utc":true},{"year":2015,"month":8,"date":22,"utc":true},{"year":2015,"month":9,"date":22,"utc":true},{"year":2015,"month":10,"date":22,"utc":true},{"year":2015,"month":11,"date":22,"utc":true},{"year":2015,"month":12,"date":22,"utc":true},
{"year":2016,"month":1,"date":22,"utc":true},{"year":2016,"month":2,"date":22,"utc":true},{"year":2016,"month":3,"date":22,"utc":true},{"year":2016,"month":4,"date":22,"utc":true},{"year":2016,"month":5,"date":22,"utc":true},{"year":2016,"month":6,"date":22,"utc":true},{"year":2016,"month":7,"date":22,"utc":true},{"year":2016,"month":8,"date":22,"utc":true},{"year":2016,"month":9,"date":22,"utc":true},{"year":2016,"month":10,"date":22,"utc":true},{"year":2016,"month":11,"date":22,"utc":true},{"year":2016,"month":12,"date":22,"utc":true},
{"year":2017,"month":1,"date":22,"utc":true},{"year":2017,"month":2,"date":22,"utc":true},{"year":2017,"month":3,"date":22,"utc":true},{"year":2017,"month":4,"date":22,"utc":true},{"year":2017,"month":5,"date":22,"utc":true},{"year":2017,"month":6,"date":22,"utc":true},{"year":2017,"month":7,"date":22,"utc":true},{"year":2017,"month":8,"date":22,"utc":true},{"year":2017,"month":9,"date":22,"utc":true},{"year":2017,"month":10,"date":22,"utc":true},{"year":2017,"month":11,"date":22,"utc":true},{"year":2017,"month":12,"date":22,"utc":true},
{"year":2018,"month":1,"date":22,"utc":true}]}
  },
  "order":{"field":"d","type":"temporal"}
 },
 "layer":[
  {
   "encoding":{"x":{"field":"v","type":"quantitative","title":"piezometri (m) assestimetri (mm)",
     "scale":{"domain":[-10,50],"nice":false,"zero":false},
     "axis":{"orient":"top","grid":true,"domain":false,"values":[-10,-8,-6,-4,-2,0,2,4,6,8,10,12,14,16,18,20,22,24,26,28,30,32,34,36,38,40,42,44,46,48,50],
      "labelAngle":90,"labelAlign":"right","labelBaseline":"middle","labelPadding":9,"titlePadding":8,
      "labelExpr":"datum.value % 10 == 0 ? '' + datum.value : ''",
      "tickOpacity":{"condition":{"test":"datum.value % 10 == 0","value":1},"value":0}}}},
   "layer":[
    {"data":{"name":"n366"},"mark":{"type":"line","color":"#000080","strokeWidth":2,"invalid":"filter"}},
    {"data":{"name":"n366"},"mark":{"type":"line","color":"#000080","strokeWidth":4,"strokeJoin":"round","invalid":"break-paths-show-domains"}},
    {"data":{"name":"n248"},"mark":{"type":"line","color":"#FF00FF","strokeWidth":2.5,"invalid":"filter"}},
    {"data":{"name":"n248"},"mark":{"type":"line","color":"#FF00FF","strokeWidth":4,"strokeJoin":"round","invalid":"break-paths-show-domains"}},
    {"data":{"name":"n150"},"mark":{"type":"line","color":"#FFFF00","strokeWidth":2,"invalid":"filter"}},
    {"data":{"name":"n150"},"mark":{"type":"line","color":"#FFFF00","strokeWidth":4.5,"strokeJoin":"round","invalid":"break-paths-show-domains"}},
    {"data":{"name":"p10"},"mark":{"type":"line","color":"#00FFFF","strokeWidth":2,"invalid":"filter"}},
    {"data":{"name":"p10"},"mark":{"type":"line","color":"#00FFFF","strokeWidth":5,"strokeJoin":"round","invalid":"break-paths-show-domains"}},
    {"data":{"name":"p30"},"mark":{"type":"line","color":"#800080","strokeWidth":2.5,"invalid":"filter"}},
    {"data":{"name":"p30"},"mark":{"type":"line","color":"#800080","strokeWidth":3.5,"strokeJoin":"round","invalid":"break-paths-show-domains"}},
    {"data":{"name":"a372"},"mark":{"type":"line","color":"#008080","strokeWidth":2.5,"invalid":"filter"}},
    {"data":{"name":"a372"},"mark":{"type":"line","color":"#008080","strokeWidth":6,"strokeJoin":"round","invalid":"break-paths-show-domains"}},
    {"data":{"name":"a224"},"mark":{"type":"line","color":"#0000FF","strokeWidth":1.5,"invalid":"filter"}},
    {"data":{"name":"a224"},"mark":{"type":"line","color":"#0000FF","strokeWidth":4.5,"strokeJoin":"round","invalid":"break-paths-show-domains"}}
   ]
  },
  {
   "encoding":{"x":{"field":"v","type":"quantitative","title":"barometro (mBar)",
     "scale":{"domain":[800,1100],"nice":false,"zero":false},
     "axis":{"orient":"bottom","grid":false,"domain":false,"format":"d","values":[800,850,900,950,1000,1050,1100],
      "labelAngle":90,"labelAlign":"left","labelBaseline":"middle","labelPadding":11,"titlePadding":4}}},
   "layer":[
    {"data":{"name":"bar"},"mark":{"type":"line","color":"#800000","strokeWidth":2.5,"invalid":"filter"}},
    {"data":{"name":"bar"},"mark":{"type":"line","color":"#800000","strokeWidth":4,"strokeJoin":"round","invalid":"break-paths-show-domains"}}
   ]
  }
 ],
 "resolve":{"scale":{"x":"independent"}}
},
{
 "spacing":0,
 "vconcat":[
  {"width":60,"height":82,"view":{"stroke":null},"data":{"values":[{}]},"mark":{"type":"point","opacity":0}},
  {
   "width":60,"height":1120,
   "view":{"stroke":"#555"},
   "data":{"values":[
    {"serie":"nuovo piez.366m","colonna":"A","riga":1},
    {"serie":"piez. 30m","colonna":"B","riga":1},
    {"serie":"nuovo piez. 248m","colonna":"A","riga":2},
    {"serie":"assestimetro 372m","colonna":"B","riga":2},
    {"serie":"nuovo piez. 150m","colonna":"A","riga":3},
    {"serie":"assestimetro 224m","colonna":"B","riga":3},
    {"serie":"piez. 10m","colonna":"A","riga":4},
    {"serie":"barometro","colonna":"B","riga":4}
   ]},
   "encoding":{
    "x":{"field":"colonna","type":"nominal","scale":{"type":"point","domain":["B","A"],"padding":0.46,"align":0.55},"axis":null},
    "y":{"field":"riga","type":"ordinal","scale":{"type":"point","padding":0.595,"align":0.19},"axis":null},
    "color":{"field":"serie","type":"nominal","legend":null,"scale":{"domain":["nuovo piez.366m","nuovo piez. 248m","nuovo piez. 150m","piez. 10m","piez. 30m","assestimetro 372m","assestimetro 224m","barometro"],"range":["#000080","#FF00FF","#FFFF00","#00FFFF","#800080","#008080","#0000FF","#800000"]}}
   },
   "layer":[
    {"transform":[{"filter":{"not":{"field":"serie","oneOf":["assestimetro 372m","assestimetro 224m"]}}}],"mark":{"type":"tick","orient":"vertical","size":42,"thickness":4.5}},
    {"transform":[{"filter":{"field":"serie","oneOf":["assestimetro 372m","assestimetro 224m"]}}],"mark":{"type":"tick","orient":"vertical","size":42,"thickness":2}},
    {"transform":[{"filter":{"field":"serie","oneOf":["assestimetro 372m","assestimetro 224m"]}}],"mark":{"type":"point","shape":"diamond","filled":true,"size":30,"opacity":1}},
    {"mark":{"type":"text","angle":90,"align":"left","baseline":"middle","dx":26,"dy":3,"fontSize":19,"font":"Liberation Sans"},"encoding":{"text":{"field":"serie"},"color":{"value":"#000"}}}
   ]
  }
 ]
}
]
}
